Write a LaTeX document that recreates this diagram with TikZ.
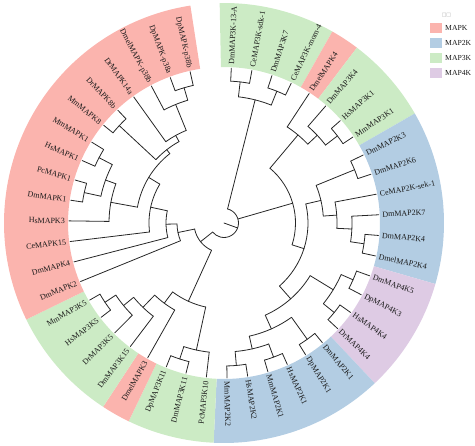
\documentclass[tikz,border=0pt]{standalone}
\usepackage{fontspec}
\setmainfont{Liberation Serif}
\newfontfamily\symfont{DejaVu Sans}
\definecolor{mapk}{HTML}{FBB4AE}
\definecolor{maptwo}{HTML}{B3CDE3}
\definecolor{mapthree}{HTML}{CCEBC5}
\definecolor{mapfour}{HTML}{DECBE4}
\tikzset{
  declare function={ang(\i)=87.3-(\i-1)*360/47;},
  branch/.style={draw=black!85, line width=0.8pt, line cap=round},
  leaflab/.style={font=\fontsize{8}{9}\selectfont, text=black!90, inner sep=0.5pt},
  legtext/.style={font=\fontsize{7.7}{9}\selectfont, text=black!90, inner sep=0pt},
}
% clade: arc over its children at radius #3, stem down to the parent at #4
\newcommand\clade[4]{%
  \pgfmathsetmacro\cladeS{ang(#1)}\pgfmathsetmacro\cladeE{ang(#2)}%
  \pgfmathsetmacro\cladeM{ang((#1+#2)/2)}%
  \draw[branch] (\cladeS:#3pt) arc[start angle=\cladeS, end angle=\cladeE, radius=#3pt];
  \draw[branch] (\cladeM:#3pt) -- (\cladeM:#4pt);}
% coloured ring over leaves #1..#2
\newcommand\sector[3]{%
  \pgfmathsetmacro\secS{ang(#1-0.5)}\pgfmathsetmacro\secE{ang(#2+0.5)}%
  \fill[#3] (\secS:156pt) arc[start angle=\secS, end angle=\secE, radius=156pt]
    -- (\secE:220pt) arc[start angle=\secE, end angle=\secS, radius=220pt] -- cycle;}
\begin{document}
\begin{tikzpicture}[x=1pt, y=1pt]
  \useasboundingbox (-224,-223) rectangle (251,223);

  % ring
  \foreach \a/\b/\col in {1/4/mapthree, 5/5/mapk, 6/8/mapthree, 9/14/maptwo,
      15/18/mapfour, 19/24/maptwo, 25/27/mapthree, 28/28/mapk, 29/32/mapthree, 33/46/mapk}
    {\sector{\a}{\b}{\col}}

  % leaves
  \foreach \lab/\prad [count=\i] in {DmMAP3K-13-A/142, CeMAP3K-sdk-1/142, DmMAP3K7/142,
      CeMAP3K-mom-4/142, DmelMAPK4/115, DmMAP3K4/128, HsMAP3K1/143, MmMAP3K1/143,
      DmMAP2K3/141, DmMAP2K6/141, CeMAP2K-sek-1/113, DmMAP2K7/128, DmMAP2K4/141.5,
      DmelMAP2K4/141.5, DmMAP4K5/141, DpMAP4K3/141, HsMAP4K4/142, DrMAP4K4/142,
      DmMAP2K1/143, DpMAP2K1/143, HsMAP2K1/143, MmMAP2K1/143, HsMAP2K2/143, MmMAP2K2/143,
      PcMAP3K10/130, DmMAP3K11/143, DpMAP3K11/143, DmelMAPK3/100, DmMAP3K15/117,
      DrMAP3K5/130, HsMAP3K5/143, MmMAP3K5/143, DmMAPK2/47, DmMAPK4/58, CeMAPK15/75,
      HsMAPK3/115, DmMAPK1/143, PcMAPK1/143, HsMAPK1/141, MmMAPK1/141, MmMAPK8/143,
      DrMAPK8b/143, DrMAPK14a/100, DmelMAPK-p38b/128, DpMAPK-p38a/141, DpMAPK-p38b/141} {
    \pgfmathsetmacro\la{ang(\i)}
    \draw[branch] (\la:155pt) -- (\la:\prad pt);
    \ifdim\la pt<-90pt
      \pgfmathsetmacro\lr{\la+180}
      \node[leaflab, anchor=east, rotate=\lr] (leaf\i) at (\la:158.5pt) {\lab};
    \else
      \node[leaflab, anchor=west, rotate=\la] (leaf\i) at (\la:158pt) {\lab};
    \fi
  }

  % inner clades
  \foreach \ca/\cb/\cr/\cp in {1/2/142/127, 3/4/142/127, 1.5/3.5/127/14.5,
      7/8/143/128, 6/7.5/128/115, 5/6.75/115/71.5,
      9/10/141/99.5, 13/14/141.5/128, 12/13.5/128/113, 11/12.75/113/99.5,
      9.5/11.875/99.5/84,
      15/16/141/128, 17/18/142/128, 15.5/17.5/128/101,
      19/20/143/116, 21/22/143/129, 23/24/143/129, 21.5/23.5/129/116,
      19.5/22.5/116/101, 16.5/21/101/84, 10.6875/18.75/84/71.5,
      5.875/14.71875/71.5/14.5,
      26/27/143/130, 25/26.5/130/86, 31/32/143/130, 30/31.5/130/117,
      29/30.75/117/100, 28/29.875/100/86, 25.75/28.9375/86/30,
      37/38/143/126, 39/40/141/126, 37.5/39.5/126/115, 36/38.5/115/88,
      41/42/143/93, 45/46/141/128, 44/45.5/128/100, 43/44.75/100/93,
      41.5/43.875/93/88, 37.25/42.6875/88/75, 35/39.96875/75/58,
      34/37.484375/58/47, 33/35.7421875/47/30, 27.34375/34.37109375/30/14.5}
    {\clade{\ca}{\cb}{\cr}{\cp}}

  % root
  \pgfmathsetmacro\rs{ang(2.5)}\pgfmathsetmacro\re{ang(30.857421875)}
  \draw[branch] (\rs:14.5pt) arc[start angle=\rs, end angle=\re, radius=14.5pt];
  \draw[branch] (0,0) coordinate (root) -- (-20:14.5pt);

  % legend
  \node[font=\symfont\fontsize{5}{5}\selectfont, text=black!35, inner sep=0pt] (legtitle) at (222.5,208) {□□};
  \foreach \nm/\col [count=\j] in {MAPK/mapk, MAP2K/maptwo, MAP3K/mapthree, MAP4K/mapfour} {
    \fill[\col] (206,{210-15*\j-5.3}) rectangle ++(11.7,10.6);
    \node[legtext, anchor=west] (leg\j) at (221,{210-15*\j}) {\nm};
  }
\end{tikzpicture}
\end{document}
